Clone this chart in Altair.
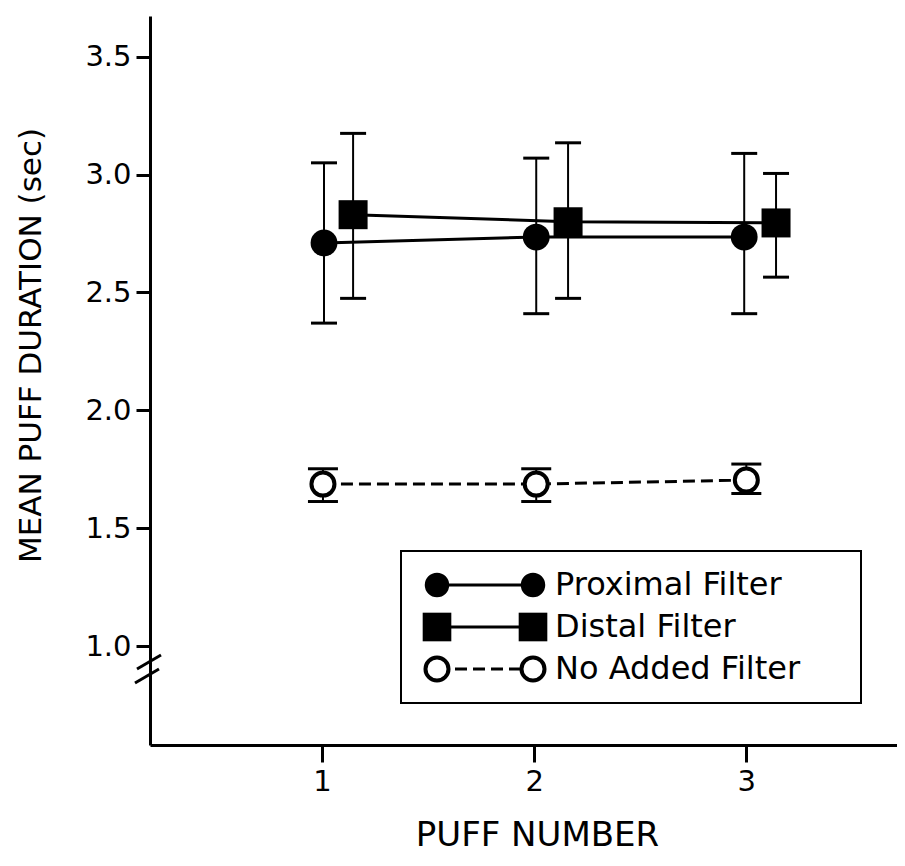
import altair as alt
import pandas as pd

# ---------------- data ----------------
series = ["Proximal Filter", "Distal Filter", "No Added Filter"]

prox_x = [1.01, 2.01, 2.99]
prox_mean = [2.71, 2.735, 2.735]
prox_hi = [3.05, 3.07, 3.09]
prox_lo = [2.37, 2.41, 2.41]

dist_x = [1.147, 2.16, 3.14]
dist_mean = [2.83, 2.80, 2.795]
dist_hi = [3.175, 3.135, 3.005]
dist_lo = [2.475, 2.475, 2.565]

none_x = [1.005, 2.01, 3.0]
none_mean = [1.687, 1.687, 1.704]
none_hi = [1.752, 1.752, 1.772]
none_lo = [1.613, 1.613, 1.647]

x_ticks = [1, 2, 3]
y_ticks = [1.0, 1.5, 2.0, 2.5, 3.0, 3.5]
x_title = "PUFF NUMBER"
y_title = "MEAN PUFF DURATION (sec)"

# ---------------- styling ----------------
FONT = "DejaVu Sans"
W, H = 747, 729
xs = alt.Scale(domain=[0.19, 3.71], nice=False, zero=False)
ys = alt.Scale(domain=[0.58, 3.673], nice=False, zero=False)

x_axis = alt.Axis(values=x_ticks, format="d", title=x_title, grid=False,
                  domainColor="black", domainWidth=3, tickColor="black", tickWidth=3,
                  tickSize=17, labelFont=FONT, labelFontSize=29, labelColor="black",
                  labelPadding=5, titleFont=FONT, titleFontSize=34, titleFontWeight="normal",
                  titleColor="black", titleX=387, titleY=100, titleAlign="center",
                  titleBaseline="alphabetic")
y_axis = alt.Axis(values=y_ticks, format=".1f", title=y_title, grid=False,
                  domainColor="black", domainWidth=3, tickColor="black", tickWidth=3,
                  tickSize=14, labelFont=FONT, labelFontSize=29, labelColor="black",
                  labelPadding=5, titleFont=FONT, titleFontSize=31, titleFontWeight="normal",
                  titleColor="black", titleX=-110, titleY=329, titleAngle=-90,
                  titleAlign="center", titleBaseline="alphabetic")


def X(field):
    return alt.X(f"{field}:Q", scale=xs, axis=x_axis)


def Y(field):
    return alt.Y(f"{field}:Q", scale=ys, axis=y_axis)


def frame(x, m, hi, lo, name):
    return pd.DataFrame({"x": x, "mean": m, "hi": hi, "lo": lo, "series": name})


df_p = frame(prox_x, prox_mean, prox_hi, prox_lo, series[0])
df_d = frame(dist_x, dist_mean, dist_hi, dist_lo, series[1])
df_n = frame(none_x, none_mean, none_hi, none_lo, series[2])

CAP = "M-1,0L1,0"


def series_layers(df, marker, dash=None):
    line_kw = dict(color="black", strokeWidth=3)
    if dash:
        line_kw["strokeDash"] = dash
    line = alt.Chart(df).mark_line(**line_kw).encode(x=X("x"), y=Y("mean"))
    bar = alt.Chart(df).mark_rule(color="black", strokeWidth=2).encode(
        x=X("x"), y=Y("lo"), y2="hi:Q")
    cap_size = 900 if marker == "open" else 676
    caps = []
    for col in ("hi", "lo"):
        caps.append(alt.Chart(df).mark_point(shape=CAP, size=cap_size, filled=False,
                                             stroke="black", strokeWidth=3, opacity=1).encode(
            x=X("x"), y=Y(col)))
    if marker == "circle":
        mk = alt.Chart(df).mark_point(shape="circle", size=720, filled=True, fill="black",
                                      strokeWidth=0, opacity=1)
    elif marker == "square":
        mk = alt.Chart(df).mark_point(shape="square", size=841, filled=True, fill="black",
                                      strokeWidth=0, opacity=1)
    else:
        mk = alt.Chart(df).mark_point(shape="circle", size=530, filled=True, fill="white",
                                      stroke="black", strokeWidth=4, opacity=1)
    mk = mk.encode(x=X("x"), y=Y("mean"))
    return [line, bar] + caps + [mk]


one = pd.DataFrame({"k": [0]})

layers = []
layers += series_layers(df_p, "circle")
layers += series_layers(df_d, "square")
layers += series_layers(df_n, "open", dash=[12, 6])

# axis break marks
for (x1, y1, x2, y2) in [(-13, 653, 11, 639), (-15, 667, 9, 653)]:
    layers.append(alt.Chart(one).mark_rule(color="black", strokeWidth=3).encode(
        x=alt.value(x1), y=alt.value(y1), x2=alt.value(x2), y2=alt.value(y2)))

# legend box
layers.append(alt.Chart(one).mark_rect(fill="white", stroke="black", strokeWidth=2).encode(
    x=alt.value(251), x2=alt.value(711), y=alt.value(535), y2=alt.value(687)))

rows_y = [569, 611, 653]
styles = ["circle", "square", "open"]
for name, ry, st in zip(series, rows_y, styles):
    lk = dict(color="black", strokeWidth=3)
    if st == "open":
        lk["strokeDash"] = [12, 6]
    layers.append(alt.Chart(one).mark_rule(**lk).encode(
        x=alt.value(287), x2=alt.value(383), y=alt.value(ry)))
    for mx in (287, 383):
        if st == "circle":
            m = alt.Chart(one).mark_point(shape="circle", size=600, filled=True, fill="black",
                                          strokeWidth=0, opacity=1)
        elif st == "square":
            m = alt.Chart(one).mark_point(shape="square", size=820, filled=True, fill="black",
                                          strokeWidth=0, opacity=1)
        else:
            m = alt.Chart(one).mark_point(shape="circle", size=530, filled=True, fill="white",
                                          stroke="black", strokeWidth=4, opacity=1)
        layers.append(m.encode(x=alt.value(mx), y=alt.value(ry)))
    layers.append(alt.Chart(one).mark_text(text=name, font=FONT, fontSize=32, align="left",
                                           baseline="middle", color="black").encode(
        x=alt.value(405), y=alt.value(ry)))

chart = alt.layer(*layers).properties(
    width=W, height=H,
    padding={"left": 142, "top": 8, "right": 0, "bottom": 110},
    autosize=alt.AutoSizeParams(type="none"),
).configure_view(stroke=None)

chart.save("out.html", embed_options={"renderer": "svg", "actions": False})
